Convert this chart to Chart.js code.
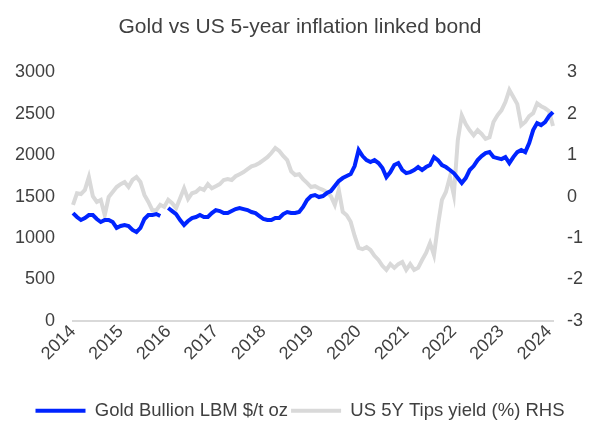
<!DOCTYPE html>
<html>
<head>
<meta charset="utf-8">
<script src="https://cdn.jsdelivr.net/npm/chart.js@4/dist/chart.umd.min.js"></script>
<style>
  html, body { margin: 0; padding: 0; background: #ffffff; }
  #wrap { width: 600px; height: 422px; }
</style>
</head>
<body>
<div id="wrap"><canvas id="myChart" width="600" height="422"></canvas></div>
<script>
// monthly series, Aug 2014 -> Sep 2024
const yearLabels = ['2014', '2015', '2016', '2017', '2018', '2019', '2020', '2021', '2022', '2023', '2024'];

const goldPrice = [
    1301, 1253, 1217, 1241, 1277, 1277, 1229, 1193, 1217, 1217, 1193, 1121,
    1145, 1157, 1145, 1097, 1072, 1121, 1229, 1277, 1277, 1289, 1265, null,
    1362, 1325, 1289, 1217, 1157, 1205, 1241, 1253, 1277, 1253, 1253, 1301,
    1337, 1325, 1301, 1301, 1325, 1349, 1362, 1349, 1337, 1313, 1301, 1265,
    1229, 1217, 1217, 1241, 1241, 1289, 1313, 1301, 1301, 1313, 1374, 1458,
    1506, 1518, 1494, 1506, 1542, 1566, 1627, 1687, 1723, 1747, 1771, 1868,
    2061, 1988, 1940, 1916, 1940, 1904, 1844, 1735, 1795, 1880, 1904, 1820,
    1783, 1795, 1820, 1856, 1820, 1856, 1880, 1976, 1940, 1880, 1856, 1820,
    1783, 1723, 1663, 1723, 1820, 1868, 1940, 1988, 2024, 2036, 1976, 1964,
    1952, 1976, 1904, 1976, 2036, 2061, 2036, 2145, 2302, 2386, 2362, 2398,
    2470, 2518
];

const tipsYield = [
    -0.20, 0.08, 0.06, 0.16, 0.47, 0.01, -0.13, -0.08, -0.45, -0.01, 0.11, 0.23,
    0.30, 0.35, 0.23, 0.40, 0.47, 0.35, 0.04, -0.13, -0.33, -0.33, -0.20, -0.25,
    -0.08, -0.16, -0.28, -0.04, 0.20, -0.06, 0.08, 0.11, 0.20, 0.16, 0.30, 0.20,
    0.25, 0.30, 0.40, 0.42, 0.40, 0.49, 0.54, 0.59, 0.66, 0.73, 0.76, 0.81,
    0.88, 0.95, 1.05, 1.17, 1.10, 0.98, 0.88, 0.61, 0.52, 0.54, 0.42, 0.33,
    0.23, 0.25, 0.20, 0.16, 0.11, 0.01, -0.20, 0.16, -0.37, -0.45, -0.61, -0.95,
    -1.24, -1.27, -1.22, -1.29, -1.43, -1.53, -1.67, -1.77, -1.63, -1.72, -1.63, -1.58,
    -1.77, -1.63, -1.77, -1.72, -1.53, -1.36, -1.12, -1.41, -0.69, -0.08, 0.11, 0.47,
    0.04, 1.36, 1.96, 1.75, 1.60, 1.48, 1.60, 1.51, 1.39, 1.43, 1.80, 1.96,
    2.08, 2.28, 2.57, 2.40, 2.23, 1.72, 1.80, 1.94, 2.01, 2.25, 2.18, 2.13,
    2.06, 1.70
];

const monthNames = ['Jan', 'Feb', 'Mar', 'Apr', 'May', 'Jun', 'Jul', 'Aug', 'Sep', 'Oct', 'Nov', 'Dec'];
const months = goldPrice.map(function (v, i) {
    return monthNames[(7 + i) % 12] + ' ' + (2014 + Math.floor((7 + i) / 12));
});

const textColor = '#404040';
const font = { family: "'Liberation Sans', Arial, sans-serif", size: 18 };

const ctx = document.getElementById('myChart').getContext('2d');
new Chart(ctx, {
    type: 'line',
    data: {
        labels: months,
        datasets: [{
            label: 'Gold Bullion LBM $/t oz',
            data: goldPrice,
            yAxisID: 'y',
            borderColor: '#0024ff',
            backgroundColor: '#0024ff',
            borderWidth: 4,
            pointRadius: 0,
            pointStyle: 'line',
            tension: 0,
            spanGaps: false,
            order: 0
        }, {
            label: 'US 5Y Tips yield (%) RHS',
            data: tipsYield,
            yAxisID: 'y1',
            borderColor: '#d9d9d9',
            backgroundColor: '#d9d9d9',
            borderWidth: 4,
            pointRadius: 0,
            pointStyle: 'line',
            tension: 0,
            order: 1
        }]
    },
    options: {
        responsive: false,
        animation: false,
        layout: { padding: { left: 0, right: 0, top: 4, bottom: -8 } },
        scales: {
            x: {
                grid: { display: false, drawTicks: false },
                border: { display: true, color: '#d9d9d9', width: 2 },
                ticks: {
                    color: textColor,
                    font: font,
                    autoSkip: false,
                    minRotation: 45,
                    maxRotation: 45,
                    padding: 0,
                    callback: function (val, index) {
                        return index % 12 === 0 ? yearLabels[index / 12] : null;
                    }
                },
                afterFit: function (scale) {
                    scale.height += 34;
                }
            },
            y: {
                position: 'left',
                min: 0,
                max: 3000,
                grid: { display: false, drawTicks: false },
                border: { display: false },
                ticks: {
                    stepSize: 500,
                    color: textColor,
                    font: font,
                    padding: 18,
                    callback: function (val) { return String(val); }
                },
                afterFit: function (scale) {
                    scale.width = 73;
                }
            },
            y1: {
                position: 'right',
                min: -3,
                max: 3,
                grid: { display: false, drawTicks: false },
                border: { display: false },
                ticks: {
                    stepSize: 1,
                    color: textColor,
                    font: font,
                    padding: 14,
                    callback: function (val) { return String(val); }
                },
                afterFit: function (scale) {
                    scale.width = 47;
                }
            }
        },
        plugins: {
            title: {
                display: true,
                text: 'Gold vs US 5-year inflation linked bond',
                color: textColor,
                font: { family: font.family, size: 21, weight: 'normal' },
                padding: { top: 11, bottom: 32 }
            },
            legend: {
                position: 'bottom',
                labels: {
                    color: textColor,
                    font: { family: font.family, size: 18.5 },
                    usePointStyle: true,
                    pointStyle: 'line',
                    pointStyleWidth: 50,
                    padding: 3
                }
            },
            tooltip: { enabled: false }
        }
    }
});
</script>
</body>
</html>
